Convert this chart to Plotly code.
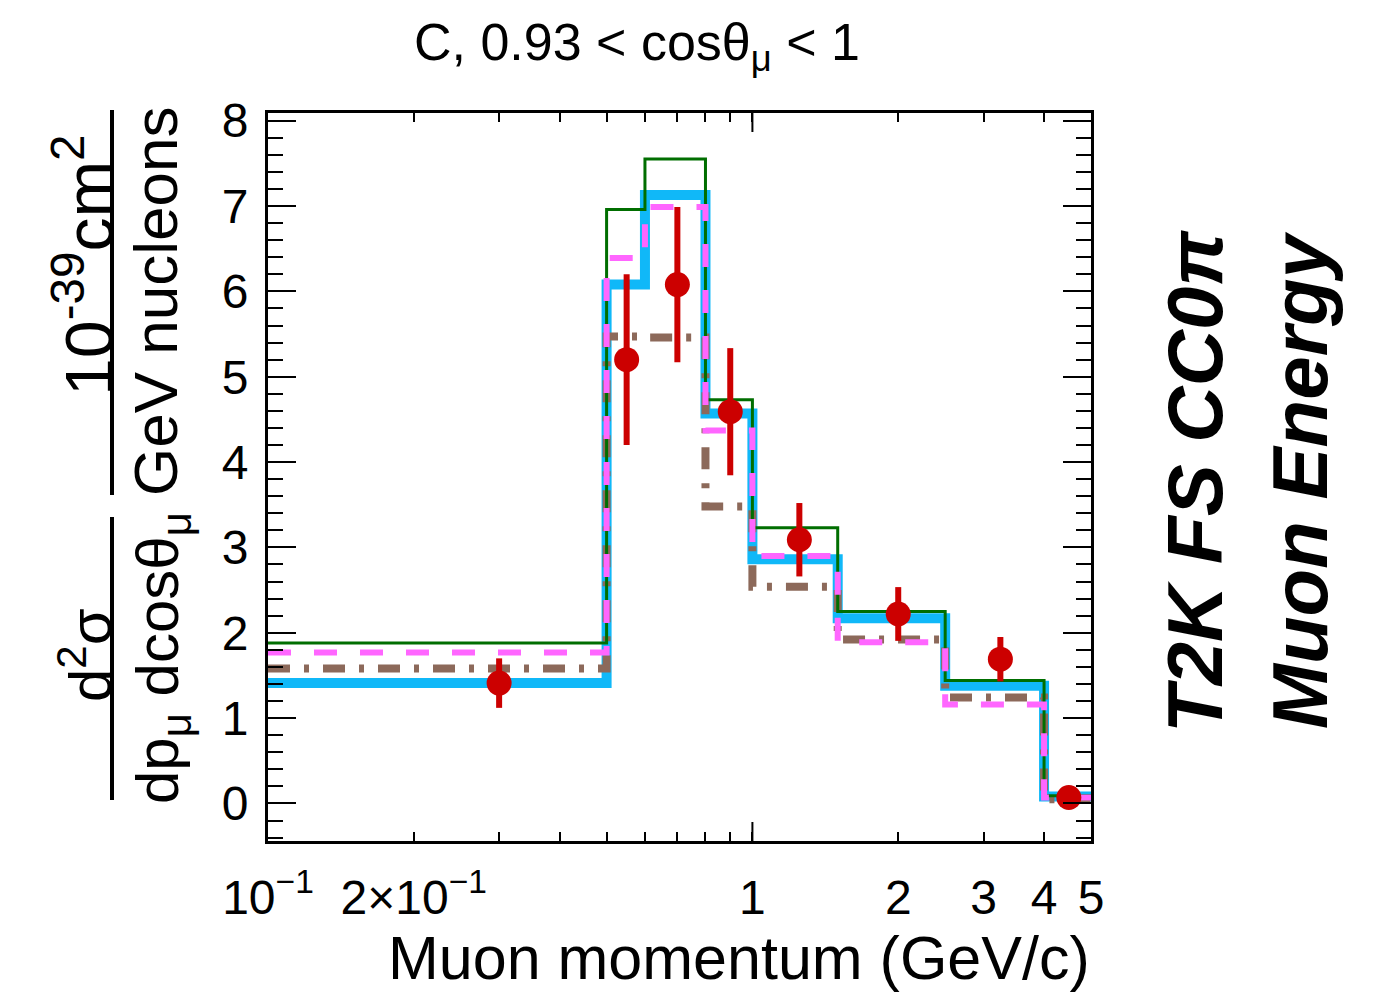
import plotly.graph_objects as go

# ---------------- data ----------------
bin_edges = [0.1, 0.5, 0.6, 0.8, 1.0, 1.5, 2.5, 4.0, 5.0]
green_thin = [1.88, 6.96, 7.55, 4.73, 3.23, 2.25, 1.44, 0.09]
cyan_thick = [1.41, 6.08, 7.13, 4.57, 2.86, 2.17, 1.38, 0.08]
magenta_dash = [1.77, 6.39, 6.99, 4.37, 2.90, 1.89, 1.16, 0.07]
brown_dashdot = [1.58, 5.47, 5.46, 3.48, 2.54, 1.92, 1.24, 0.05]

data_x = [0.3, 0.55, 0.7, 0.9, 1.25, 2.0, 3.25, 4.5]
data_y = [1.41, 5.20, 6.08, 4.59, 3.09, 2.22, 1.69, 0.07]
data_err = [0.29, 1.00, 0.91, 0.745, 0.43, 0.315, 0.26, 0.03]

x_tickvals = [0.1, 0.2, 1, 2, 3, 4, 5]
x_ticktext = ["10<sup>−1</sup>", "2×10<sup>−1</sup>", "1", "2", "3", "4", "5"]
x_minor = [0.3, 0.4, 0.5, 0.6, 0.7, 0.8, 0.9]

# ---------------- layout geometry ----------------
W, H = 1378, 993
L, R, T, B = 268, 287, 113, 152
PW, PH = W - L - R, H - T - B


def px(x):
    return (x - L) / PW


def py(y):
    return (H - B - y) / PH


FONT = "Liberation Sans, Arial, Helvetica, sans-serif"


def step(vals):
    return vals + [vals[-1]]


fig = go.Figure()
fig.add_trace(go.Scatter(x=bin_edges, y=step(cyan_thick), mode="lines", line_shape="hv",
                         line=dict(color="#10B8F8", width=10), showlegend=False))
fig.add_trace(go.Scatter(x=bin_edges, y=step(brown_dashdot), mode="lines", line_shape="hv",
                         line=dict(color="#8C695A", width=8, dash="22px,14px,5px,14px"),
                         showlegend=False))
fig.add_trace(go.Scatter(x=bin_edges, y=step(green_thin), mode="lines", line_shape="hv",
                         line=dict(color="#006E00", width=3), showlegend=False))
fig.add_trace(go.Scatter(x=bin_edges, y=step(magenta_dash), mode="lines", line_shape="hv",
                         line=dict(color="#FF66FF", width=6, dash="23px,23px"),
                         showlegend=False))
fig.add_trace(go.Scatter(x=data_x, y=data_y, mode="markers",
                         marker=dict(color="#CC0000", size=25),
                         error_y=dict(type="data", array=data_err, color="#CC0000",
                                      thickness=6, width=0),
                         showlegend=False))

fig.update_xaxes(type="log", range=[-1, 0.69897], tickmode="array",
                 tickvals=x_tickvals, ticktext=x_ticktext,
                 ticks="inside", ticklen=9, tickwidth=2, tickcolor="black",
                 minor=dict(tickmode="array", tickvals=x_minor, ticks="inside",
                            ticklen=9, tickwidth=2, tickcolor="black"),
                 showline=True, linewidth=3, linecolor="black", mirror="allticks",
                 showgrid=False, zeroline=False,
                 tickfont=dict(family=FONT, size=48, color="black"),
                 ticklabelstandoff=12)
fig.update_yaxes(range=[-0.44, 8.09], tickmode="linear", tick0=0, dtick=1,
                 ticks="inside", ticklen=28, tickwidth=2, tickcolor="black",
                 minor=dict(dtick=0.2, tick0=0, ticks="inside", ticklen=15,
                            tickwidth=2, tickcolor="black"),
                 showline=True, linewidth=3, linecolor="black", mirror="allticks",
                 showgrid=False, zeroline=False,
                 tickfont=dict(family=FONT, size=48, color="black"),
                 ticklabelstandoff=7)

ann = []
ann.append(dict(text="C, 0.93 &lt; cosθ<sub>μ</sub> &lt; 1", x=px(637), y=py(46),
                xanchor="center", yanchor="middle", font=dict(size=52)))
ann.append(dict(text="Muon momentum (GeV/c)", x=px(1092), y=py(958),
                xanchor="right", yanchor="middle", font=dict(size=61)))
ann.append(dict(text="<b><i>T2K FS CC0π</i></b>", x=px(1195), y=py(482), textangle=-90,
                xanchor="center", yanchor="middle", font=dict(size=78)))
ann.append(dict(text="<b><i>Muon Energy</i></b>", x=px(1300), y=py(480), textangle=-90,
                xanchor="center", yanchor="middle", font=dict(size=78)))
# y-axis label (two fractions, rotated)
ann.append(dict(text="d<sup>2</sup>σ", x=px(86), y=py(655), textangle=-90,
                xanchor="center", yanchor="middle", font=dict(size=60)))
ann.append(dict(text="dp<sub>μ</sub> dcosθ<sub>μ</sub>", x=px(162), y=py(658), textangle=-90,
                xanchor="center", yanchor="middle", font=dict(size=60)))
ann.append(dict(text="10<sup>-39</sup>cm<sup>2</sup>", x=px(84), y=py(265), textangle=-90,
                xanchor="center", yanchor="middle", font=dict(size=68)))
ann.append(dict(text="GeV nucleons", x=px(155), y=py(302), textangle=-90,
                xanchor="center", yanchor="middle", font=dict(size=62)))
for a in ann:
    a.update(xref="paper", yref="paper", showarrow=False)
    a["font"].update(family=FONT, color="black")

shapes = [
    dict(type="line", xref="paper", yref="paper", x0=px(112), x1=px(112),
         y0=py(517), y1=py(800), line=dict(color="black", width=4)),
    dict(type="line", xref="paper", yref="paper", x0=px(112), x1=px(112),
         y0=py(110), y1=py(495), line=dict(color="black", width=4)),
    # long tick at 1 on bottom and top
    dict(type="line", xref="x", yref="paper", x0=1, x1=1, y0=0, y1=19 / PH,
         line=dict(color="black", width=2)),
    dict(type="line", xref="x", yref="paper", x0=1, x1=1, y0=1, y1=1 - 19 / PH,
         line=dict(color="black", width=2)),
]

fig.update_layout(width=W, height=H, margin=dict(l=L, r=R, t=T, b=B, pad=0),
                  paper_bgcolor="white", plot_bgcolor="white",
                  annotations=ann, shapes=shapes,
                  font=dict(family=FONT, color="black"))

fig.write_html("out.html", config={"displayModeBar": False},
               post_script="document.body.style.margin='0px';document.body.style.padding='0px';")
